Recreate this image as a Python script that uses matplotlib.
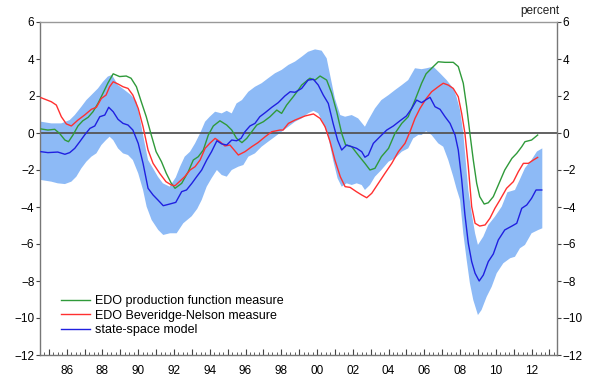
import numpy as np
import matplotlib
matplotlib.use("Agg")
import matplotlib.pyplot as plt
from matplotlib.ticker import MultipleLocator, FixedLocator, FuncFormatter

plt.rcParams['font.family'] = ['Liberation Sans', 'DejaVu Sans']

# ---- data ----
red_x = [1984.56, 1985.14, 1985.42, 1985.7, 1985.98, 1986.26, 1986.63, 1987.0, 1987.38, 1987.66,
         1987.94, 1988.2, 1988.4, 1988.6, 1988.87, 1989.15, 1989.43, 1989.7, 1990.0, 1990.27,
         1990.55, 1990.83, 1991.2, 1991.55, 1991.85, 1992.06, 1992.6, 1992.9, 1993.18, 1993.46,
         1993.74, 1994.0, 1994.3, 1994.57, 1994.85, 1995.13, 1995.6, 1995.97, 1996.35, 1996.7,
         1997.1, 1997.47, 1997.93, 1998.1, 1998.4, 1998.77, 1999.33, 1999.8, 2000.17, 2000.45,
         2000.73, 2001.0, 2001.3, 2001.57, 2001.85, 2002.2, 2002.5, 2002.78, 2003.06, 2003.43,
         2003.8, 2004.18, 2004.55, 2004.92, 2005.2, 2005.48, 2005.76, 2006.1, 2006.41, 2006.78,
         2007.06, 2007.34, 2007.62, 2007.9, 2008.09, 2008.27, 2008.46, 2008.65, 2008.84, 2009.1,
         2009.4, 2009.67, 2009.95, 2010.23, 2010.6, 2010.98, 2011.26, 2011.54, 2011.82, 2012.1,
         2012.34]
red_y = [1.91, 1.69, 1.51, 0.88, 0.49, 0.38, 0.70, 0.97, 1.28, 1.39,
         1.87, 2.05, 2.5, 2.77, 2.65, 2.5, 2.41, 2.05, 1.33, 0.34,
         -0.92, -1.64, -2.18, -2.63, -2.81, -2.85, -2.36, -2.0, -1.82, -1.46,
         -0.83, -0.56, -0.29, -0.47, -0.70, -0.65, -1.19, -1.01, -0.74, -0.52,
         -0.2, 0.07, 0.16, 0.16, 0.52, 0.70, 0.92, 1.03, 0.79, 0.34,
         -0.47, -1.46, -2.36, -2.9, -2.94, -3.17, -3.35, -3.5, -3.26, -2.72,
         -2.18, -1.64, -1.01, -0.56, 0.07, 0.79, 1.33, 1.85, 2.23, 2.5,
         2.69, 2.59, 2.41, 1.96, 1.06, 0.0, -1.8, -3.98, -4.88, -5.03,
         -4.97, -4.61, -4.07, -3.62, -2.99, -2.63, -2.09, -1.64, -1.64, -1.46,
         -1.32]

green_x = [1984.56, 1984.95, 1985.33, 1985.6, 1985.9, 1986.1, 1986.35, 1986.63, 1986.9, 1987.2,
           1987.47, 1987.75, 1988.03, 1988.3, 1988.6, 1988.96, 1989.33, 1989.6, 1989.9, 1990.17,
           1990.45, 1990.73, 1991.0, 1991.3, 1991.57, 1991.85, 1992.06, 1992.43, 1992.8, 1993.08,
           1993.36, 1993.64, 1993.92, 1994.2, 1994.57, 1994.95, 1995.23, 1995.5, 1995.8, 1996.07,
           1996.35, 1996.63, 1997.0, 1997.37, 1997.75, 1998.02, 1998.3, 1998.67, 1998.95, 1999.14,
           1999.6, 1999.89, 2000.17, 2000.54, 2000.82, 2001.1, 2001.38, 2001.6, 2001.94, 2002.3,
           2002.68, 2002.96, 2003.24, 2003.6, 2004.0, 2004.36, 2004.74, 2005.1, 2005.48, 2005.85,
           2006.1, 2006.41, 2006.78, 2007.16, 2007.62, 2007.9, 2008.18, 2008.37, 2008.55, 2008.74,
           2008.93, 2009.1, 2009.35, 2009.58, 2009.86, 2010.14, 2010.5, 2010.9, 2011.17, 2011.45,
           2011.63, 2012.0, 2012.34]
green_y = [0.22, 0.16, 0.2, -0.02, -0.38, -0.47, -0.11, 0.38, 0.66, 0.85,
           1.15, 1.6, 2.15, 2.69, 3.2, 3.05, 3.08, 2.96, 2.5, 1.69,
           0.88, -0.11, -1.01, -1.55, -2.18, -2.72, -2.99, -2.72, -2.09, -1.46,
           -1.28, -0.92, -0.11, 0.38, 0.66, 0.43, 0.16, -0.29, -0.52, -0.29,
           0.07, 0.43, 0.61, 0.88, 1.24, 1.06, 1.51, 1.96, 2.32, 2.59,
           2.96, 2.86, 3.08, 2.86, 2.15, 1.15, -0.02, -0.65, -0.74, -1.19,
           -1.64, -2.0, -1.91, -1.28, -0.83, -0.02, 0.52, 0.88, 1.78, 2.69,
           3.2, 3.5, 3.85, 3.82, 3.82, 3.59, 2.69, 1.42, -0.02, -1.46,
           -2.72, -3.44, -3.84, -3.77, -3.44, -2.81, -2.0, -1.37, -1.1, -0.74,
           -0.47, -0.38, -0.11]

blue_x = [1984.56, 1984.95, 1985.5, 1985.9, 1986.17, 1986.45, 1986.73, 1987.0, 1987.3, 1987.57,
          1987.85, 1988.13, 1988.35, 1988.6, 1988.87, 1989.15, 1989.43, 1989.7, 1990.0, 1990.27,
          1990.55, 1990.83, 1991.1, 1991.4, 1991.76, 1992.1, 1992.43, 1992.7, 1993.0, 1993.27,
          1993.55, 1993.83, 1994.1, 1994.4, 1994.67, 1994.95, 1995.23, 1995.5, 1995.75, 1995.97,
          1996.25, 1996.53, 1996.8, 1997.1, 1997.47, 1997.83, 1998.2, 1998.5, 1998.77, 1999.14,
          1999.5, 1999.8, 2000.07, 2000.35, 2000.63, 2000.9, 2001.15, 2001.38, 2001.66, 2001.94,
          2002.22, 2002.5, 2002.68, 2002.87, 2003.15, 2003.52, 2003.9, 2004.27, 2004.64, 2005.0,
          2005.3, 2005.57, 2005.85, 2006.1, 2006.32, 2006.6, 2006.88, 2007.16, 2007.44, 2007.72,
          2007.9, 2008.09, 2008.27, 2008.46, 2008.65, 2008.84, 2009.07, 2009.3, 2009.58, 2009.86,
          2010.14, 2010.5, 2010.9, 2011.17, 2011.45, 2011.73, 2012.0, 2012.25, 2012.57]
blue_y = [-1.01, -1.06, -1.03, -1.15, -1.06, -0.83, -0.47, -0.11, 0.25, 0.38,
          0.88, 0.97, 1.39, 1.15, 0.74, 0.52, 0.43, 0.16, -0.56, -1.64,
          -2.99, -3.35, -3.62, -3.93, -3.84, -3.75, -3.17, -3.08, -2.72, -2.36,
          -2.0, -1.46, -1.01, -0.42, -0.59, -0.65, -0.38, -0.42, -0.29, 0.07,
          0.38, 0.52, 0.88, 1.1, 1.39, 1.64, 2.0, 2.23, 2.2, 2.41,
          2.86, 2.9, 2.59, 2.05, 1.6, 0.52, -0.38, -0.92, -0.65, -0.74,
          -0.83, -1.01, -1.31, -1.19, -0.56, -0.2, 0.16, 0.38, 0.66, 0.92,
          1.33, 1.78, 1.64, 1.8, 1.93, 1.42, 1.28, 0.88, 0.52, -0.11,
          -0.92, -2.5, -4.4, -5.96, -6.95, -7.58, -8.0, -7.68, -6.95, -6.54,
          -5.78, -5.24, -5.03, -4.88, -4.07, -3.89, -3.53, -3.08, -3.08]

band_up_x = [1984.56, 1985.14, 1985.7, 1986.17, 1986.45, 1986.82, 1987.1, 1987.38, 1987.75, 1988.03,
             1988.3, 1988.53, 1988.87, 1989.24, 1989.6, 1989.9, 1990.08, 1990.27, 1990.55, 1990.83,
             1991.1, 1991.38, 1991.76, 1992.1, 1992.34, 1992.6, 1992.9, 1993.18, 1993.46, 1993.74,
             1994.0, 1994.3, 1994.67, 1994.95, 1995.23, 1995.5, 1995.8, 1996.16, 1996.53, 1996.9,
             1997.27, 1997.65, 1998.02, 1998.4, 1998.77, 1999.14, 1999.5, 1999.89, 2000.26, 2000.54,
             2000.73, 2001.0, 2001.3, 2001.57, 2001.94, 2002.3, 2002.68, 2002.87, 2003.24, 2003.6,
             2004.0, 2004.36, 2004.74, 2005.1, 2005.48, 2005.85, 2006.13, 2006.5, 2006.88, 2007.25,
             2007.62, 2007.8, 2008.0, 2008.18, 2008.46, 2008.65, 2008.84, 2009.0, 2009.3, 2009.58,
             2009.95, 2010.33, 2010.65, 2011.07, 2011.35, 2011.63, 2012.0, 2012.3, 2012.6]
band_up_y = [0.61, 0.52, 0.52, 0.7, 0.97, 1.42, 1.78, 2.05, 2.41, 2.77,
             3.05, 3.14, 2.59, 2.32, 2.05, 1.69, 0.88, -0.11, -1.46, -1.91,
             -2.36, -2.72, -2.9, -2.4, -1.82, -1.28, -1.01, -0.56, -0.02, 0.61,
             0.88, 1.15, 1.06, 1.2, 1.06, 1.6, 1.78, 2.23, 2.5, 2.69,
             2.96, 3.23, 3.41, 3.68, 3.86, 4.12, 4.39, 4.52, 4.45, 4.04,
             3.14, 1.87, 0.97, 0.88, 0.97, 0.79, 0.34, 0.7, 1.33, 1.78,
             2.05, 2.32, 2.59, 2.86, 3.5, 3.45, 3.5, 3.59, 3.23, 2.86,
             2.41, 1.96, 1.24, 0.0, -3.08, -4.34, -5.42, -6.05, -5.6, -4.97,
             -4.52, -3.98, -3.2, -3.08, -2.5, -1.9, -1.45, -1.0, -0.83]

band_lo_x = [1984.56, 1985.14, 1985.5, 1985.9, 1986.26, 1986.54, 1986.82, 1987.1, 1987.38, 1987.66,
             1987.94, 1988.2, 1988.4, 1988.6, 1988.87, 1989.15, 1989.43, 1989.7, 1990.0, 1990.27,
             1990.47, 1990.75, 1991.12, 1991.4, 1991.78, 1992.15, 1992.52, 1992.99, 1993.3, 1993.55,
             1993.83, 1994.1, 1994.4, 1994.67, 1994.95, 1995.23, 1995.6, 1995.88, 1996.16, 1996.53,
             1996.9, 1997.27, 1997.65, 1998.02, 1998.4, 1998.77, 1999.14, 1999.5, 1999.8, 2000.07,
             2000.35, 2000.63, 2000.9, 2001.15, 2001.38, 2001.66, 2001.94, 2002.22, 2002.5, 2002.68,
             2002.96, 2003.24, 2003.6, 2004.0, 2004.36, 2004.74, 2005.1, 2005.38, 2005.66, 2005.85,
             2006.1, 2006.41, 2006.78, 2007.06, 2007.34, 2007.62, 2007.8, 2008.0, 2008.18, 2008.37,
             2008.55, 2008.74, 2009.0, 2009.2, 2009.49, 2009.77, 2010.05, 2010.42, 2010.8, 2011.07,
             2011.35, 2011.63, 2012.0, 2012.38, 2012.6]
band_lo_y = [-2.54, -2.63, -2.72, -2.76, -2.63, -2.36, -1.91, -1.55, -1.28, -1.1,
             -0.65, -0.38, -0.2, -0.38, -0.83, -1.1, -1.19, -1.46, -2.18, -3.08,
             -3.98, -4.7, -5.24, -5.51, -5.42, -5.42, -4.88, -4.5, -4.1, -3.62,
             -2.9, -2.45, -2.0, -2.27, -2.36, -2.0, -1.82, -1.73, -1.28, -1.1,
             -0.74, -0.47, -0.2, 0.07, 0.34, 0.61, 0.79, 1.06, 1.2, 1.06,
             0.52, -0.2, -1.46, -2.45, -2.9, -2.72, -2.81, -2.72, -2.81, -3.08,
             -2.81, -2.36, -2.0, -1.55, -1.37, -1.01, -0.83, -0.29, -0.11, -0.11,
             0.1, -0.11, -0.56, -0.74, -1.46, -2.36, -3.0, -3.62, -5.42, -6.86,
             -8.12, -9.03, -9.84, -9.57, -8.85, -8.31, -7.58, -7.04, -6.77, -6.69,
             -6.23, -6.05, -5.42, -5.24, -5.15]

labels = ["EDO production function measure", "EDO Beveridge-Nelson measure", "state-space model"]
year_ticks = list(range(1985, 2014))
ytick_vals = [-12, -10, -8, -6, -4, -2, 0, 2, 4, 6]

# ---- figure ----
fig = plt.figure(figsize=(6.0, 3.87), dpi=100)
ax = fig.add_axes([40/600, 1-355/387, (557-40)/600, (355-22)/387])

bx = np.concatenate([band_up_x, band_lo_x[::-1]])
by = np.concatenate([band_up_y, band_lo_y[::-1]])
ax.fill(bx, by, color='#8dbaf6', lw=0, zorder=1)

ax.axhline(0, color='#555555', lw=1.3, zorder=2)

lg, = ax.plot(green_x, green_y, color='#2f9a3a', lw=1.0, zorder=3)
lr, = ax.plot(red_x, red_y, color='#ff3030', lw=1.0, zorder=3)
lb, = ax.plot(blue_x, blue_y, color='#2020e0', lw=1.0, zorder=4)

x0 = 1986 + (40 - 66.7) / 17.88
x1 = 1986 + (557 - 66.7) / 17.88
ax.set_xlim(x0, x1)
ax.set_ylim(-12, 6)

ax.xaxis.set_major_locator(FixedLocator(year_ticks))
ax.xaxis.set_minor_locator(MultipleLocator(0.25))
ax.xaxis.set_major_formatter(FuncFormatter(lambda v, p: ("%02d" % (int(round(v)) % 100)) if int(round(v)) % 2 == 0 else ""))
ax.tick_params(axis='x', which='major', direction='in', length=4, width=0.8, color='#444444',
               labelsize=8.5, pad=7, top=False)
ax.tick_params(axis='x', which='minor', direction='in', length=2, width=0.6, color='#444444', top=False)

ax.set_yticks(ytick_vals)
ax.tick_params(axis='y', which='major', direction='out', length=3, width=0.8, color='#444444',
               labelsize=8.5, left=True, right=True, labelleft=True, labelright=True, pad=1)

for s in ['left', 'right', 'bottom']:
    ax.spines[s].set_color('#777777')
    ax.spines[s].set_linewidth(1.0)
ax.spines['top'].set_color('#999999')
ax.spines['top'].set_linestyle((0, (1, 1)))
ax.spines['top'].set_linewidth(1.0)

fig.text(520/600, 1-11/387, "percent", fontsize=8.5, ha='left', va='center', color='#222222')

leg = ax.legend([lg, lr, lb], labels, loc='lower left', bbox_to_anchor=((61-40)/517, (355-336)/333),
                frameon=False, fontsize=9, handlelength=2.3, handletextpad=0.45, labelspacing=0.2,
                borderaxespad=0, borderpad=0)

fig.savefig("out.png", dpi=100)
